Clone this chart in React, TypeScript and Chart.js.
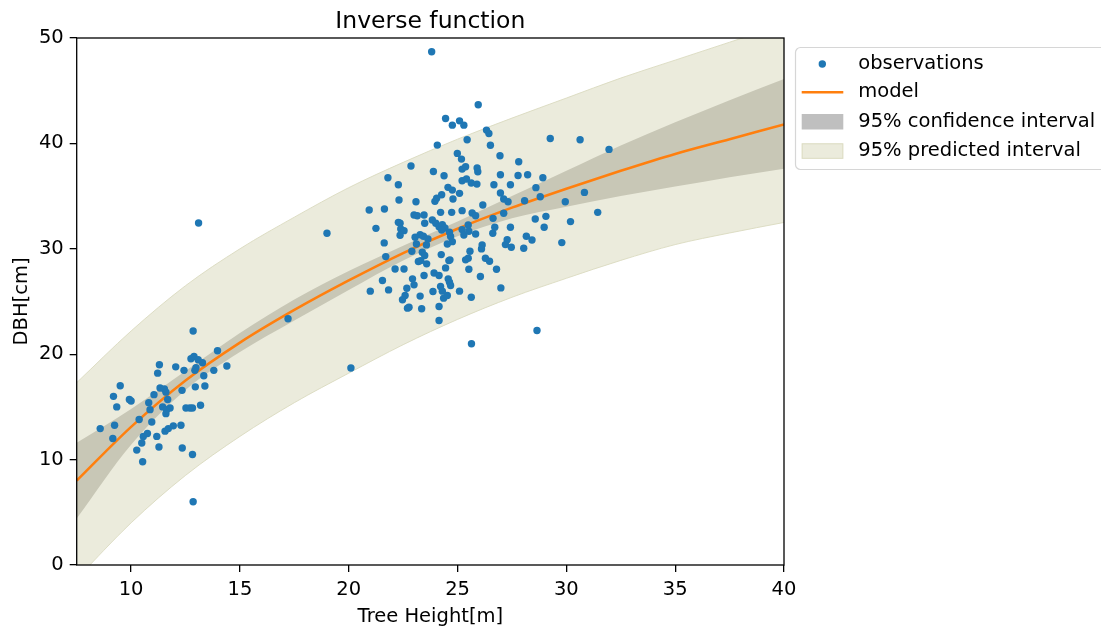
import React, { useEffect, useRef } from "react";
import { Chart, registerables } from "chart.js";

Chart.register(...registerables);

// ---- data ----
const obsX = [
  8.58, 9.16, 9.19, 9.34, 9.5, 9.24, 9.92, 10.0, 10.26, 10.37, 10.53, 10.49, 10.56, 10.75, 10.81, 10.87,
  10.95, 11.05, 11.18, 11.22, 11.28, 11.3, 11.33, 11.53, 11.6, 11.45, 11.63, 11.6, 11.68, 11.79, 11.56,
  11.71, 11.94, 12.05, 12.29, 12.34, 12.35, 12.43, 12.52, 12.7, 12.82, 12.82, 12.85, 12.85, 12.75, 12.89,
  12.93, 12.98, 13.08, 13.28, 12.95, 13.19, 13.34, 13.39, 13.1, 13.8, 13.97, 14.4, 17.21, 19.0, 20.1,
  23.81, 25.95, 24.45, 24.76, 25.09, 25.29, 26.33, 26.44, 25.44, 24.07, 26.51, 29.26, 30.63, 31.96, 24.99,
  25.18, 26.95, 27.81, 22.86, 25.21, 25.37, 25.9, 25.93, 23.89, 24.38, 26.97, 27.78, 28.22, 28.92, 21.8,
  22.28, 25.21, 25.41, 25.63, 25.89, 26.67, 27.43, 28.6, 24.56, 24.76, 25.09, 24.27, 24.79, 24.04, 23.96,
  26.97, 27.12, 27.32, 28.8, 28.08, 29.95, 30.83, 22.31, 23.09, 26.16, 20.94, 21.64, 25.21, 25.67, 25.83,
  27.12, 23.0, 23.15, 23.46, 24.22, 24.73, 23.49, 23.84, 24.0, 24.15, 24.3, 24.42, 22.36, 22.39, 22.54,
  22.36, 21.25, 21.63, 21.7, 25.21, 25.29, 25.52, 25.49, 25.83, 26.63, 26.71, 26.62, 27.43, 28.57, 28.98,
  29.06, 30.19, 31.44, 29.79, 28.16, 28.42, 27.28, 27.2, 27.47, 28.04, 26.13, 26.1, 25.57, 25.37, 25.49,
  26.28, 26.47, 26.79, 25.52, 26.05, 26.99, 25.63, 25.09, 24.63, 24.68, 24.57, 24.6, 24.45, 24.65, 24.25,
  24.53, 24.68, 23.57, 23.64, 23.28, 23.43, 23.05, 23.11, 22.9, 23.38, 23.49, 23.31, 23.2, 23.58, 23.46,
  23.92, 24.15, 24.22, 24.3, 23.87, 22.93, 23.0, 22.67, 22.59, 22.47, 22.77, 22.7, 23.35, 23.28, 22.13,
  22.54, 21.55, 21.83, 20.99, 24.15, 24.36, 24.53, 24.15, 28.65, 25.64, 22.28, 24.63, 24.76, 24.27,
];
const obsY = [
  12.94, 12.0, 16.0, 15.0, 17.0, 13.26, 15.7, 15.56, 10.9, 13.8, 9.79, 11.58, 12.2, 12.47, 15.4, 14.74,
  13.57, 16.16, 12.2, 18.2, 11.2, 19.0, 16.8, 16.7, 16.4, 15.0, 14.74, 14.36, 15.7, 14.9, 12.7,
  12.94, 13.2, 18.8, 13.26, 16.57, 11.1, 18.47, 14.9, 14.9, 14.9, 10.48, 22.2, 6.0, 19.57, 19.79,
  18.47, 18.72, 19.48, 19.19, 16.9, 15.15, 17.96, 16.98, 32.45, 18.47, 20.33, 18.88, 23.36, 31.47, 18.69,
  48.7, 43.66, 42.36, 41.73, 42.14, 41.73, 41.26, 40.94, 40.34, 39.84, 39.83, 40.47, 40.34, 39.43, 39.05,
  38.51, 38.83, 38.26, 37.85, 37.56, 37.78, 37.66, 37.31, 37.34, 36.93, 37.03, 36.96, 37.03, 36.74, 36.74,
  36.08, 36.46, 36.62, 36.24, 36.14, 36.08, 36.08, 35.8, 35.83, 35.57, 35.26, 35.13, 34.72, 34.79, 34.5,
  35.29, 34.72, 34.47, 34.94, 34.56, 34.47, 35.35, 34.63, 34.47, 34.15, 33.68, 33.78, 33.62, 33.4, 33.14,
  33.37, 33.21, 33.14, 33.21, 33.46, 33.46, 32.42, 32.73, 32.42, 32.1, 32.29, 31.98, 32.42, 31.88, 31.72,
  31.28, 31.94, 30.56, 29.26, 31.82, 31.31, 31.66, 32.26, 31.41, 32.89, 32.04, 31.47, 32.04, 32.83, 32.04,
  33.08, 32.58, 33.46, 30.59, 31.19, 30.84, 30.87, 30.4, 30.14, 30.05, 30.37, 29.99, 29.77, 28.95, 29.1,
  29.1, 28.82, 28.06, 28.06, 27.37, 26.29, 25.41, 25.98, 26.83, 26.52, 27.15, 28.88, 28.19, 28.95, 29.45,
  30.46, 31.16, 30.37, 30.93, 31.34, 31.19, 31.09, 30.46, 29.77, 29.67, 29.36, 28.88, 28.79, 28.57, 27.46,
  27.71, 27.46, 26.42, 25.98, 25.95, 27.15, 26.58, 26.26, 25.57, 25.16, 24.46, 24.37, 24.31, 25.51, 28.09,
  28.09, 26.99, 26.1, 25.98, 23.2, 25.32, 25.57, 24.53, 22.25, 20.99, 32.51, 31.57, 30.68, 31.79,
];

const curveX = [7.5, 10, 12.5, 15, 17.5, 20, 22.5, 25, 27.5, 30, 32.5, 35, 37.5, 40];
const modelY = [8.0, 13.1, 17.5, 21.1, 24.2, 27.0, 29.6, 31.9, 33.9, 35.7, 37.4, 39.0, 40.4, 41.8];
const ciUpper = [11.6, 14.8, 18.4, 22.0, 25.2, 27.9, 30.3, 32.6, 35.0, 37.4, 39.8, 42.0, 44.1, 46.1];
const ciLower = [4.4, 11.4, 16.6, 20.2, 23.2, 26.1, 28.9, 31.2, 32.9, 34.0, 35.0, 35.9, 36.8, 37.6];
const piUpper = [17.3, 22.2, 26.5, 30.0, 33.0, 35.8, 38.2, 40.4, 42.4, 44.3, 46.2, 47.9, 49.6, 51.3];
const piLower = [-1.3, 4.0, 8.5, 12.2, 15.4, 18.2, 20.9, 23.3, 25.4, 27.2, 28.9, 30.4, 31.5, 32.5];

const xTicks = [10, 15, 20, 25, 30, 35, 40];
const yTicks = [0, 10, 20, 30, 40, 50];

const TITLE = "Inverse function";
const X_LABEL = "Tree Height[m]";
const Y_LABEL = "DBH[cm]";
const LEGEND_LABELS = ["observations", "model", "95% confidence interval", "95% predicted interval"];

// ---- styles ----
const FONT = "DejaVu Sans";
const BLUE = "#1f77b4";
const ORANGE = "#ff7f0e";
const PI_FILL = "rgb(235,235,220)";
const PI_EDGE = "rgba(218,218,192,0.9)";
const CI_FILL = "rgb(200,199,182)";
const CI_LEGEND = "#bfbfbf";

const pts = (ys: number[]) => curveX.map((x, i) => ({ x, y: ys[i] }));

const decorPlugin = {
  id: "decor",
  afterDatasetsDraw(chart: any) {
    const { ctx, chartArea: a } = chart;
    ctx.save();
    ctx.strokeStyle = "#000";
    ctx.lineWidth = 1.3;
    ctx.strokeRect(a.left, a.top, a.right - a.left, a.bottom - a.top);
    ctx.restore();
  },
  afterDraw(chart: any) {
    const { ctx, chartArea: a } = chart;
    ctx.save();
    // title
    ctx.fillStyle = "#000";
    ctx.font = `23.5px "${FONT}"`;
    ctx.textAlign = "center";
    ctx.textBaseline = "alphabetic";
    ctx.fillText(TITLE, (a.left + a.right) / 2, 28.3);

    // legend box
    const bx = 795.5, by = 47.5, bw = 320, bh = 122, r = 5;
    ctx.beginPath();
    ctx.moveTo(bx + r, by);
    ctx.lineTo(bx + bw - r, by);
    ctx.arcTo(bx + bw, by, bx + bw, by + r, r);
    ctx.lineTo(bx + bw, by + bh - r);
    ctx.arcTo(bx + bw, by + bh, bx + bw - r, by + bh, r);
    ctx.lineTo(bx + r, by + bh);
    ctx.arcTo(bx, by + bh, bx, by + bh - r, r);
    ctx.lineTo(bx, by + r);
    ctx.arcTo(bx, by, bx + r, by, r);
    ctx.closePath();
    ctx.fillStyle = "rgba(255,255,255,0.85)";
    ctx.fill();
    ctx.strokeStyle = "#d6d6d6";
    ctx.lineWidth = 1.2;
    ctx.stroke();

    const rows = [64, 92.3, 121.7, 150.5];
    // observations marker
    ctx.fillStyle = BLUE;
    ctx.beginPath();
    ctx.arc(822.3, rows[0], 3.7, 0, Math.PI * 2);
    ctx.fill();
    // model line
    ctx.strokeStyle = ORANGE;
    ctx.lineWidth = 2.5;
    ctx.beginPath();
    ctx.moveTo(801.7, rows[1]);
    ctx.lineTo(843.3, rows[1]);
    ctx.stroke();
    // CI patch
    ctx.fillStyle = CI_LEGEND;
    ctx.fillRect(801.7, 114, 41.6, 15.5);
    // PI patch
    ctx.fillStyle = PI_FILL;
    ctx.fillRect(801.7, 143.3, 41.6, 15.5);
    ctx.strokeStyle = PI_EDGE;
    ctx.lineWidth = 1;
    ctx.strokeRect(802.2, 143.8, 40.6, 14.5);

    ctx.fillStyle = "#000";
    ctx.font = `19.5px "${FONT}"`;
    ctx.textAlign = "left";
    ctx.textBaseline = "middle";
    LEGEND_LABELS.forEach((t, i) => ctx.fillText(t, 858.3, rows[i]));
    ctx.restore();
  },
};

export default function App() {
  const ref = useRef<HTMLCanvasElement | null>(null);

  useEffect(() => {
    if (!ref.current) return;
    const lineBase = {
      type: "line" as const,
      pointRadius: 0,
      cubicInterpolationMode: "monotone" as const,
    };
    const chart = new Chart(ref.current, {
      type: "scatter",
      data: {
        datasets: [
          {
            label: "observations",
            data: obsX.map((x, i) => ({ x, y: obsY[i] })),
            backgroundColor: BLUE,
            borderWidth: 0,
            pointRadius: 3.7,
            order: 0,
          },
          {
            ...lineBase,
            label: "model",
            data: pts(modelY),
            borderColor: ORANGE,
            borderWidth: 2.5,
            fill: false,
            order: 1,
          },
          {
            ...lineBase,
            label: "ci lower",
            data: pts(ciLower),
            borderColor: "rgba(0,0,0,0)",
            borderWidth: 0,
            fill: false,
            order: 2,
          },
          {
            ...lineBase,
            label: "ci upper",
            data: pts(ciUpper),
            borderColor: "rgba(0,0,0,0)",
            borderWidth: 0,
            backgroundColor: CI_FILL,
            fill: "-1",
            order: 2,
          },
          {
            ...lineBase,
            label: "pi lower",
            data: pts(piLower),
            borderColor: PI_EDGE,
            borderWidth: 1,
            fill: false,
            order: 3,
          },
          {
            ...lineBase,
            label: "pi upper",
            data: pts(piUpper),
            borderColor: PI_EDGE,
            borderWidth: 1,
            backgroundColor: PI_FILL,
            fill: "-1",
            order: 3,
          },
        ] as any,
      },
      options: {
        responsive: false,
        animation: false,
        devicePixelRatio: 1,
        layout: { padding: { top: 38, right: 317, bottom: 0, left: 0 } },
        plugins: {
          legend: { display: false },
          title: { display: false },
          tooltip: { enabled: false },
        },
        scales: {
          x: {
            type: "linear",
            min: 7.5,
            max: 40,
            afterBuildTicks: (s: any) => {
              s.ticks = xTicks.map((v) => ({ value: v }));
            },
            afterFit: (s: any) => {
              s.height = 62;
            },
            border: { display: false },
            grid: {
              drawOnChartArea: false,
              drawTicks: true,
              tickLength: 7,
              color: "#000",
              lineWidth: 1.3,
            },
            ticks: {
              color: "#000",
              font: { family: FONT, size: 19.5 },
              padding: 6,
              maxRotation: 0,
              callback: (v: any) => String(v),
            },
            title: {
              display: true,
              text: X_LABEL,
              color: "#000",
              font: { family: FONT, size: 19.5, lineHeight: 1 },
              padding: { top: 0, bottom: 0.4 },
            },
          },
          y: {
            type: "linear",
            min: 0,
            max: 50,
            afterBuildTicks: (s: any) => {
              s.ticks = yTicks.map((v) => ({ value: v }));
            },
            afterFit: (s: any) => {
              s.width = 76.7;
            },
            border: { display: false },
            grid: {
              drawOnChartArea: false,
              drawTicks: true,
              tickLength: 7,
              color: "#000",
              lineWidth: 1.3,
            },
            ticks: {
              color: "#000",
              font: { family: FONT, size: 19.5 },
              padding: 6,
              callback: (v: any) => String(v),
            },
            title: {
              display: true,
              text: Y_LABEL,
              color: "#000",
              font: { family: FONT, size: 19.5, lineHeight: 1.2 },
              padding: { top: 9.8, bottom: 0 },
            },
          },
        },
      },
      plugins: [decorPlugin],
    });
    return () => chart.destroy();
  }, []);

  return (
    <div style={{ position: "fixed", left: 0, top: 0, width: 1101, height: 627, background: "#fff" }}>
      <canvas ref={ref} width={1101} height={627} style={{ width: 1101, height: 627, display: "block" }} />
    </div>
  );
}
